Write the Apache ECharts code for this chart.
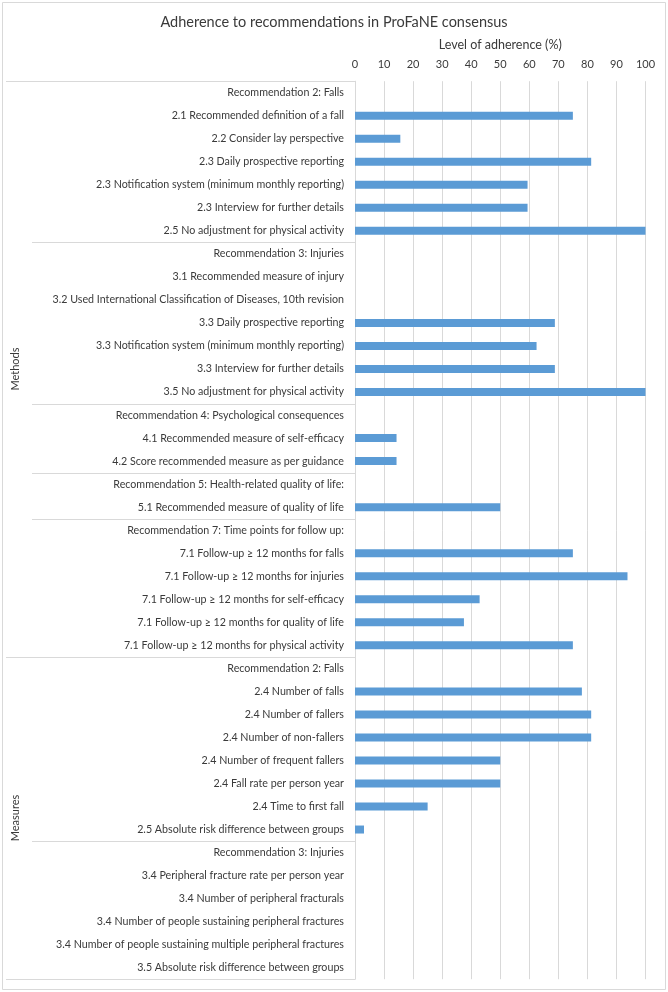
<!DOCTYPE html>
<html>
<head>
<meta charset="utf-8">
<script src="https://cdn.jsdelivr.net/npm/echarts@6/dist/echarts.min.js"></script>
<style>
html,body{margin:0;padding:0;background:#fff;}
#chart{width:668px;height:992px;}
</style>
</head>
<body>
<div id="chart"></div>
<script>
const chartTitle = 'Adherence to recommendations in ProFaNE consensus';
const axisName = 'Level of adherence (%)';
const categories = [
  'Recommendation 2: Falls',
  '2.1 Recommended definition of a fall',
  '2.2 Consider lay perspective',
  '2.3 Daily prospective reporting',
  '2.3 Notification system (minimum monthly reporting)',
  '2.3 Interview for further details',
  '2.5 No adjustment for physical activity',
  'Recommendation 3: Injuries',
  '3.1 Recommended measure of injury',
  '3.2 Used International Classification of Diseases, 10th revision',
  '3.3 Daily prospective reporting',
  '3.3 Notification system (minimum monthly reporting)',
  '3.3 Interview for further details',
  '3.5 No adjustment for physical activity',
  'Recommendation 4: Psychological consequences',
  '4.1 Recommended measure of self-efficacy',
  '4.2 Score recommended measure as per guidance',
  'Recommendation 5: Health-related quality of life:',
  '5.1 Recommended measure of quality of life',
  'Recommendation 7: Time points for follow up:',
  '7.1 Follow-up \u2265 12 months for falls',
  '7.1 Follow-up \u2265 12 months for injuries',
  '7.1 Follow-up \u2265 12 months for self-efficacy',
  '7.1 Follow-up \u2265 12 months for quality of life',
  '7.1 Follow-up \u2265 12 months for physical activity',
  'Recommendation 2: Falls',
  '2.4 Number of falls',
  '2.4 Number of fallers',
  '2.4 Number of non-fallers',
  '2.4 Number of frequent fallers',
  '2.4 Fall rate per person year',
  '2.4 Time to first fall',
  '2.5 Absolute risk difference between groups',
  'Recommendation 3: Injuries',
  '3.4 Peripheral fracture rate per person year',
  '3.4 Number of peripheral fracturals',
  '3.4 Number of people sustaining peripheral fractures',
  '3.4 Number of people sustaining multiple peripheral fractures',
  '3.5 Absolute risk difference between groups'
];
const adherence = [
  null, 75, 15.6, 81.3, 59.4, 59.4, 100,
  null, 0, 0, 68.8, 62.5, 68.8, 100,
  null, 14.3, 14.3,
  null, 50,
  null, 75, 93.8, 42.9, 37.5, 75,
  null, 78.1, 81.3, 81.3, 50, 50, 25, 3.1,
  null, 0, 0, 0, 0, 0
];
const groupNames = ['Methods', 'Measures'];
const groupSizes = [25, 14];

const FONT = 'Lato';
const TEXT = '#3a3a3a';
const GRID = '#D9D9D9';

const chart = echarts.init(document.getElementById('chart'), null, {renderer: 'canvas'});
chart.setOption({
  animation: false,
  backgroundColor: '#ffffff',
  textStyle: {fontFamily: FONT},
  title: {
    text: chartTitle,
    left: 'center',
    top: 10,
    textStyle: {fontFamily: FONT, fontSize: 14.5, fontWeight: 'normal', color: TEXT}
  },
  grid: {left: 355, right: 22.5, top: 81.2, bottom: 12.8, containLabel: false, outerBoundsMode: 'none'},
  xAxis: {
    type: 'value',
    position: 'top',
    min: 0, max: 100, interval: 10,
    name: axisName,
    nameLocation: 'middle',
    nameGap: 30,
    nameTextStyle: {fontFamily: FONT, fontSize: 12.5, color: TEXT},
    axisLine: {show: false},
    axisTick: {show: false},
    axisLabel: {fontFamily: FONT, fontSize: 11, color: TEXT, margin: 11},
    splitLine: {show: true, lineStyle: {color: GRID, width: 1}}
  },
  yAxis: {
    type: 'category',
    inverse: true,
    data: categories,
    axisLine: {show: true, lineStyle: {color: GRID, width: 1}},
    axisTick: {show: false},
    axisLabel: {fontFamily: FONT, fontSize: 10.7, color: TEXT, margin: 11, interval: 0},
    splitLine: {show: false}
  },
  series: [{
    type: 'bar',
    data: adherence,
    barWidth: 8,
    itemStyle: {color: '#5B9BD5'},
    silent: true
  }]
});

// separators and group labels computed from the axis scales
const y0 = chart.convertToPixel({yAxisIndex: 0}, 0);
const y1 = chart.convertToPixel({yAxisIndex: 0}, 1);
const step = y1 - y0;
const xAxis0 = chart.convertToPixel({xAxisIndex: 0}, 0);
const groupStarts = [];
let acc = 0;
groupSizes.forEach(s => { groupStarts.push(acc); acc += s; });
const elements = [];
categories.forEach((c, i) => {
  if (c.indexOf('Recommendation') === 0) {
    const y = Math.round(chart.convertToPixel({yAxisIndex: 0}, i) - step / 2) + 0.5;
    const full = groupStarts.indexOf(i) >= 0;
    elements.push({type: 'line', silent: true, shape: {x1: full ? 6 : 32, y1: y, x2: xAxis0, y2: y},
      style: {stroke: GRID, lineWidth: 1}});
  }
});
const yEnd = Math.round(chart.convertToPixel({yAxisIndex: 0}, categories.length - 1) + step / 2) + 0.5;
elements.push({type: 'line', silent: true, shape: {x1: 6, y1: yEnd, x2: xAxis0, y2: yEnd},
  style: {stroke: GRID, lineWidth: 1}});
groupNames.forEach((g, k) => {
  const a = chart.convertToPixel({yAxisIndex: 0}, groupStarts[k]) - step / 2;
  const b = chart.convertToPixel({yAxisIndex: 0}, groupStarts[k] + groupSizes[k] - 1) + step / 2;
  elements.push({type: 'text', silent: true, x: 15, y: (a + b) / 2, rotation: Math.PI / 2,
    style: {text: g, fill: TEXT, font: '11px ' + FONT, align: 'center', verticalAlign: 'middle'}});
});
elements.push({type: 'rect', silent: true, shape: {x: 2.5, y: 2.5, width: 663, height: 987},
  style: {fill: null, stroke: GRID, lineWidth: 1}});
chart.setOption({graphic: {elements: elements}});
</script>
</body>
</html>
